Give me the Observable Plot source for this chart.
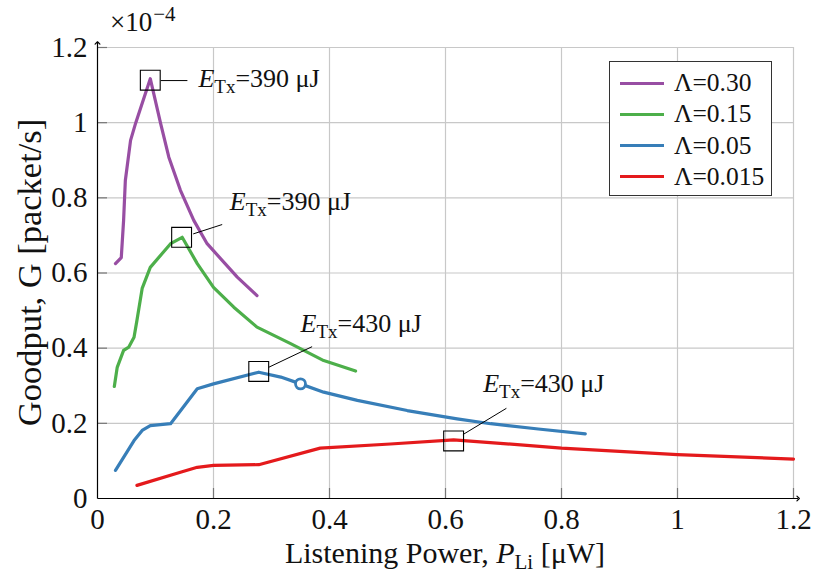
<!DOCTYPE html>
<html><head><meta charset="utf-8">
<script src="https://cdn.jsdelivr.net/npm/d3@7"></script>
<script src="https://cdn.jsdelivr.net/npm/@observablehq/plot@0.6"></script>
<style>
body{margin:0;background:#fff;}
#wrap{position:relative;width:813px;height:583px;font-family:"Liberation Serif",serif;}
#legend{position:absolute;left:609px;top:61px;width:161px;height:133px;border:1.3px solid #333;background:#fff;box-sizing:content-box;}
.row{position:absolute;left:0;height:30px;display:flex;align-items:center;font-size:25.5px;color:#111;}
.sw{width:44px;height:3px;margin-left:10px;margin-right:10px;}
</style></head><body><div id="wrap"><div id="chart"></div><div id="legend"></div></div>
<script>
// ---- data ----
const seriesNames = ["Λ=0.30", "Λ=0.15", "Λ=0.05", "Λ=0.015"];
const seriesColors = ["#984ea3", "#4daf4a", "#377eb8", "#e41a1c"];

const x030 = [0.031, 0.041, 0.045, 0.048, 0.057, 0.066, 0.091, 0.109, 0.123, 0.143, 0.166, 0.189, 0.241, 0.275];
const y030 = [0.625, 0.641, 0.74, 0.846, 0.953, 1.0, 1.117, 0.997, 0.908, 0.82, 0.74, 0.678, 0.589, 0.54];

const x015 = [0.029, 0.034, 0.045, 0.054, 0.063, 0.068, 0.077, 0.091, 0.126, 0.146, 0.172, 0.2, 0.235, 0.275, 0.333, 0.39, 0.445];
const y015 = [0.298, 0.349, 0.394, 0.403, 0.429, 0.474, 0.559, 0.615, 0.678, 0.695, 0.625, 0.562, 0.509, 0.456, 0.412, 0.367, 0.339];

const x005 = [0.031, 0.063, 0.077, 0.091, 0.126, 0.172, 0.2, 0.278, 0.316, 0.35, 0.39, 0.448, 0.534, 0.62, 0.678, 0.76, 0.841];
const y005 = [0.075, 0.154, 0.181, 0.194, 0.199, 0.292, 0.305, 0.336, 0.323, 0.305, 0.283, 0.261, 0.234, 0.212, 0.199, 0.185, 0.172];

const x0015 = [0.068, 0.143, 0.172, 0.2, 0.278, 0.384, 0.505, 0.614, 0.7, 0.8, 1.0, 1.2];
const y0015 = [0.035, 0.07, 0.083, 0.088, 0.09, 0.134, 0.145, 0.156, 0.146, 0.134, 0.117, 0.105];

const peakX = [0.091, 0.145, 0.278, 0.614];
const peakY = [1.113, 0.695, 0.338, 0.153];

const circleX = [0.35];
const circleY = [0.305];

const annotEnergy = ["390", "390", "430", "430"];
const annotX1 = [0.109, 0.165, 0.295, 0.630];
const annotY1 = [1.112, 0.704, 0.349, 0.17];
const annotX2 = [0.155, 0.215, 0.370, 0.705];
const annotY2 = [1.112, 0.729, 0.404, 0.24];
const annotTX = [0.174, 0.228, 0.35, 0.665];
const annotTY = [1.118, 0.79, 0.465, 0.305];

const xTicks = [0, 0.2, 0.4, 0.6, 0.8, 1, 1.2];
const yTicks = [0, 0.2, 0.4, 0.6, 0.8, 1, 1.2];

// ---- build tables ----
const xs = [x030, x015, x005, x0015];
const ys = [y030, y015, y005, y0015];
const rows = [];
seriesNames.forEach((s, k) => xs[k].forEach((x, i) => rows.push({series: s, x, y: ys[k][i]})));
const peaks = peakX.map((x, i) => ({x, y: peakY[i]}));
const circ = circleX.map((x, i) => ({x, y: circleY[i]}));
const annots = annotEnergy.map((e, i) => ({e, x1: annotX1[i], y1: annotY1[i], x2: annotX2[i], y2: annotY2[i], tx: annotTX[i], ty: annotTY[i]}));

const W = 813, H = 583;
const plot = Plot.plot({
  width: W, height: H,
  marginLeft: 97, marginRight: 20, marginTop: 47, marginBottom: 85,
  style: {fontFamily: "Liberation Serif, serif", background: "white", color: "#111"},
  x: {domain: [0, 1.2]},
  y: {domain: [0, 1.2]},
  color: {domain: seriesNames, range: seriesColors},
  marks: [
    Plot.gridX(xTicks.slice(1), {stroke: "#c8c8c8", strokeOpacity: 1, strokeWidth: 1.2}),
    Plot.gridY(yTicks.slice(1), {stroke: "#c8c8c8", strokeOpacity: 1, strokeWidth: 1.2}),
    Plot.tickY(yTicks.slice(1), {y: d => d, stroke: "#777", strokeWidth: 1.2, insetRight: 686}),
    Plot.tickX(xTicks.slice(1), {x: d => d, stroke: "#777", strokeWidth: 1.2, insetTop: 441}),
    Plot.axisX(xTicks, {tickSize: 0, tickPadding: 10, fontSize: 29, tickFormat: d => String(d), label: null}),
    Plot.axisY(yTicks, {tickSize: 0, tickPadding: 10, fontSize: 29, tickFormat: d => String(d), label: null}),
    Plot.line(rows, {x: "x", y: "y", z: "series", stroke: "series", strokeWidth: 3.2, strokeLinejoin: "round"}),
    Plot.dot(circ, {x: "x", y: "y", r: 5, stroke: seriesColors[2], strokeWidth: 2.8, fill: "white"}),
    Plot.link(annots, {x1: "x1", y1: "y1", x2: "x2", y2: "y2", stroke: "#000", strokeWidth: 1}),
    Plot.dot(peaks, {x: "x", y: "y", symbol: "square", r: 11.2, stroke: "#000", strokeWidth: 1.1, fill: "none"}),
    Plot.text(annots, {x: "tx", y: "ty", text: d => "ETx=" + d.e + " μJ", textAnchor: "start", fontSize: 26, fill: "#111"}),
    Plot.link([0], {x1: 0, y1: 0, x2: 0, y2: 1.212, stroke: "#000", strokeWidth: 1.2, markerEnd: "arrow"}),
    Plot.link([0], {x1: 0, y1: 0, x2: 1.208, y2: 0, stroke: "#000", strokeWidth: 1.2, markerEnd: "arrow"})
  ]
});
document.getElementById("chart").appendChild(plot);

// rich text for annotations
const svg = d3.select(plot);
svg.selectAll("text").filter(function() { return /^ETx=/.test(this.textContent); }).each(function() {
  const t = d3.select(this);
  const rest = this.textContent.slice(3);
  t.text(null);
  t.append("tspan").attr("font-style", "italic").text("E");
  t.append("tspan").attr("font-size", 19).attr("dy", 6).text("Tx");
  t.append("tspan").attr("dy", -6).text(rest);
});

// axis labels & exponent
const sx = plot.scale("x"), sy = plot.scale("y");
const cx = (sx.range[0] + sx.range[1]) / 2;
const cy = (sy.range[0] + sy.range[1]) / 2;
const xl = svg.append("text").attr("x", cx).attr("y", 563).attr("text-anchor", "middle")
  .attr("font-size", 30).attr("fill", "#111");
xl.append("tspan").text("Listening Power, ");
xl.append("tspan").attr("font-style", "italic").text("P");
xl.append("tspan").attr("font-size", 21).attr("dy", 6).text("Li");
xl.append("tspan").attr("dy", -6).text(" [μW]");

svg.append("text").attr("transform", `translate(41,${cy}) rotate(-90)`).attr("text-anchor", "middle")
  .attr("font-size", 34.5).attr("fill", "#111").text("Goodput, G [packet/s]");

const ex = svg.append("text").attr("x", 110).attr("y", 31).attr("text-anchor", "start")
  .attr("font-size", 27).attr("fill", "#111");
ex.append("tspan").text("×10");
ex.append("tspan").attr("font-size", 21).attr("dx", 1).attr("dy", -10).text("−4");

// legend
const lg = document.getElementById("legend");
seriesNames.forEach((s, i) => {
  const r = document.createElement("div");
  r.className = "row";
  r.style.top = (6 + i * 31.3) + "px";
  const sw = document.createElement("div");
  sw.className = "sw"; sw.style.background = seriesColors[i];
  const tx = document.createElement("span"); tx.textContent = s;
  r.appendChild(sw); r.appendChild(tx); lg.appendChild(r);
});
</script></body></html>
